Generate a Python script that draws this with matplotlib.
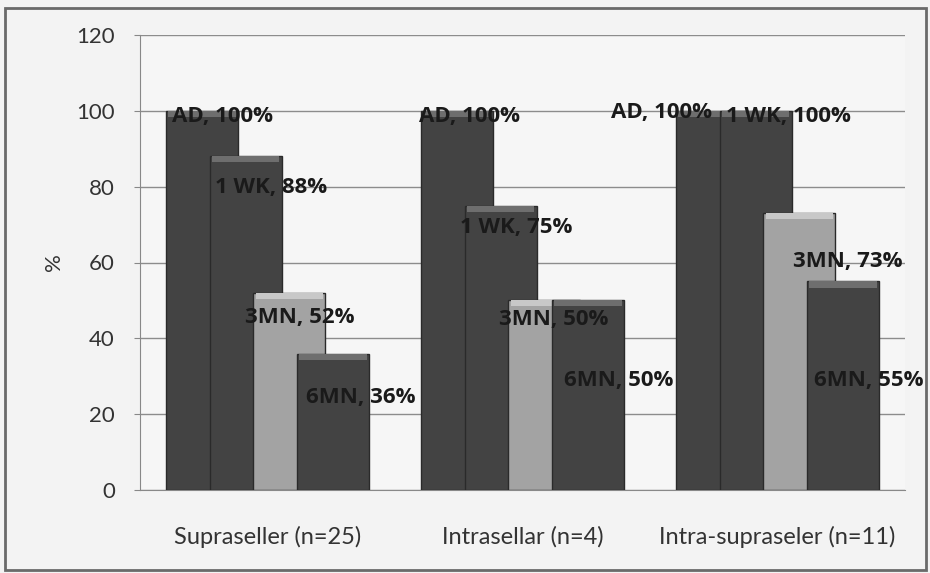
import matplotlib
matplotlib.use("Agg")
import matplotlib.pyplot as plt
from matplotlib.patches import Rectangle
import numpy as np

categories = ["Supraseller (n=25)", "Intrasellar (n=4)", "Intra-supraseler (n=11)"]
series_names = ["AD", "1 WK", "3MN", "6MN"]
ad = [100, 100, 100]
wk1 = [88, 75, 100]
mn3 = [52, 50, 73]
mn6 = [36, 50, 55]
yticks = [0, 20, 40, 60, 80, 100, 120]

# label placement (offset from bar centre in category units, y in data units)
label_dx = [[0.08, 0.05, -0.20], [0.10, 0.06, 0.13], [0.04, 0.035, 0.19], [0.11, 0.12, 0.10]]
label_y = [[98.4, 98.4, 99.5], [79.7, 69.1, 98.4], [45.4, 44.9, 60.2], [24.3, 28.8, 28.8]]

dark = "#434343"
light = "#a3a3a3"
colors = [dark, dark, light, dark]
FONT = ["Lato", "DejaVu Sans"]
LFONT = ["Open Sans", "DejaVu Sans"]

fig = plt.figure(figsize=(9.3, 5.73), dpi=100, facecolor="#f3f3f3")
ax = fig.add_axes([140 / 930, 1 - 490 / 573, 765 / 930, 455 / 573])
ax.set_facecolor("#f6f6f6")

x = np.arange(len(categories))
step = 0.171
width = 0.282
all_vals = [ad, wk1, mn3, mn6]
for i, vals in enumerate(all_vals):
    pos = x + (i - 1.5) * step
    ax.bar(pos, vals, width=width, color=colors[i], edgecolor="#2a2a2a",
           linewidth=1.0, zorder=3 + i)
    # bevel highlight on top
    hl = "#6e6e6e" if colors[i] == dark else "#c8c8c8"
    ax.bar(pos, [1.6] * len(vals), bottom=np.array(vals) - 1.6, width=width * 0.94,
           color=hl, linewidth=0, zorder=3 + i)
    for j, v in enumerate(vals):
        ax.text(pos[j] + label_dx[i][j], label_y[i][j], f"{series_names[i]}, {v}%",
                ha="center", va="center", fontsize=16, fontweight="bold",
                family=LFONT, color="#1a1a1a", zorder=20)

ax.set_xlim(-0.5, 2.5)
ax.set_ylim(0, 120)
ax.set_yticks(yticks)
ax.set_yticklabels([str(t) for t in yticks], fontsize=16, family=FONT, color="#333333")
ax.set_xticks(x)
ax.set_xticklabels(categories, fontsize=17, family=FONT, color="#333333")
ax.tick_params(axis="x", length=0, pad=26)
ax.tick_params(axis="y", length=4, color="#888888", pad=14)
ax.yaxis.grid(True, color="#8c8c8c", linewidth=1.0, zorder=0)
ax.set_axisbelow(True)
for s in ["top", "right"]:
    ax.spines[s].set_visible(False)
ax.spines["left"].set_color("#888888")
ax.spines["bottom"].set_color("#888888")
ax.set_ylabel("%", fontsize=16, family=FONT, color="#333333", labelpad=9)

fig.patches.append(Rectangle((5 / 930, 3 / 573), 921 / 930, 562 / 573, transform=fig.transFigure,
                             fill=False, edgecolor="#6a6a6a", linewidth=2))

fig.savefig("out.png", dpi=100, facecolor=fig.get_facecolor())
